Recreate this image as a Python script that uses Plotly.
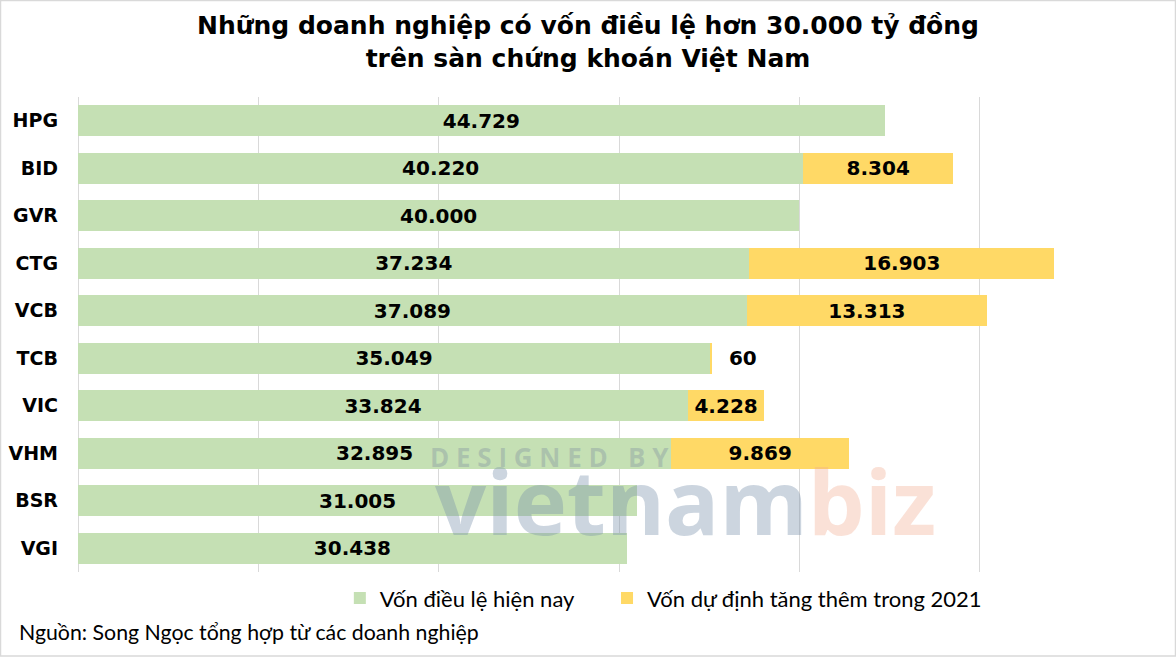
import plotly.graph_objects as go

companies = ["HPG", "BID", "GVR", "CTG", "VCB", "TCB", "VIC", "VHM", "BSR", "VGI"]
von_hien_nay = [44729, 40220, 40000, 37234, 37089, 35049, 33824, 32895, 31005, 30438]
von_tang_them = [None, 8304, None, 16903, 13313, 60, 4228, 9869, None, None]

title_text = "Những doanh nghiệp có vốn điều lệ hơn 30.000 tỷ đồng<br>trên sàn chứng khoán Việt Nam"
legend_names = ["Vốn điều lệ hiện nay", "Vốn dự định tăng thêm trong 2021"]
source_text = "Nguồn: Song Ngọc tổng hợp từ các doanh nghiệp"

GREEN = "#c5e0b4"
YELLOW = "#ffd966"
LIGHT = "Lato, Open Sans, sans-serif"
BOLD = "DejaVu Sans, Verdana, sans-serif"


def fmt(v):
    return "" if v is None else f"{v:,}".replace(",", ".")


small = [v is not None and v < 1000 for v in von_tang_them]
yellow_pos = ["outside" if s else "inside" for s in small]
yellow_text = [("\u00a0\u00a0" + fmt(v)) if s else fmt(v) for v, s in zip(von_tang_them, small)]

fig = go.Figure()
fig.add_trace(go.Bar(
    y=companies, x=von_hien_nay, orientation="h", name=legend_names[0] + "\u00a0" * 5,
    marker=dict(color=GREEN, line=dict(width=0)),
    text=[fmt(v) for v in von_hien_nay],
    texttemplate="<b>%{text}</b>", textposition="inside", insidetextanchor="middle",
    textangle=0, constraintext="none",
    textfont=dict(family=BOLD, size=20, color="black"),
))
fig.add_trace(go.Bar(
    y=companies, x=von_tang_them, orientation="h", name=legend_names[1],
    marker=dict(color=YELLOW, line=dict(width=0)),
    text=yellow_text,
    texttemplate="<b>%{text}</b>", textposition=yellow_pos, insidetextanchor="middle",
    textangle=0, constraintext="none", cliponaxis=False,
    textfont=dict(family=BOLD, size=20, color="black"),
))

fig.update_layout(
    width=1176, height=657,
    barmode="stack", bargap=0.35,
    paper_bgcolor="white", plot_bgcolor="white",
    margin=dict(l=78, r=16, t=97, b=85),
    xaxis=dict(range=[0, 60000], dtick=10000, showticklabels=False,
               showgrid=True, gridcolor="#d9d9d9", gridwidth=1,
               zeroline=True, zerolinecolor="#d9d9d9", zerolinewidth=1,
               showline=False, fixedrange=True, automargin=False),
    yaxis=dict(autorange="reversed", showgrid=False, ticks="", ticklabelstandoff=19,
               tickfont=dict(family=BOLD, size=19, color="black"),
               showline=False, automargin=False),
    legend=dict(orientation="h", x=0.242, xanchor="left", y=-0.055, yanchor="middle",
                font=dict(family=LIGHT, size=22, color="black"),
                itemwidth=30, traceorder="normal"),
    showlegend=True,
)

fig.update_yaxes(tickvals=companies, ticktext=["<b>" + c + "</b>" for c in companies])

# title
fig.add_annotation(text="<b>" + title_text + "</b>", xref="paper", yref="paper",
                   x=(588 - 78) / 1082, y=(572 - 42) / 475, xanchor="center", yanchor="middle",
                   showarrow=False, align="center",
                   font=dict(family=BOLD, size=25, color="black"))

fig.add_annotation(text=source_text, xref="paper", yref="paper", x=(17 - 78) / 1082,
                   y=(572 - 632) / 475,
                   xanchor="left", yanchor="middle", showarrow=False,
                   font=dict(family=LIGHT, size=21.3, color="black"))

# watermark
fig.add_annotation(text="<b>D E S I G N E D   B Y</b>", xref="paper", yref="paper",
                   x=(549 - 78) / 1082, y=(572 - 457) / 475, xanchor="center", yanchor="middle",
                   showarrow=False, font=dict(family="Open Sans, sans-serif", size=26,
                                              color="rgba(130,145,160,0.38)"))
fig.add_annotation(text="<b><span style='color:rgba(120,145,170,0.38)'>vietnam</span>"
                        "<span style='color:rgba(240,170,140,0.35)'>biz</span></b>",
                   xref="paper", yref="paper",
                   x=(685 - 78) / 1082, y=(572 - 500) / 475, xanchor="center", yanchor="middle",
                   showarrow=False, font=dict(family="Open Sans, sans-serif", size=90))

# outer frame
fig.add_shape(type="rect", xref="paper", yref="paper",
              x0=-77.5 / 1082, x1=(1175.5 - 78) / 1082, y0=-84 / 475, y1=1 + 96.5 / 475,
              line=dict(color="#d9d9d9", width=1.5), layer="below")

fig.write_html("out.html")
